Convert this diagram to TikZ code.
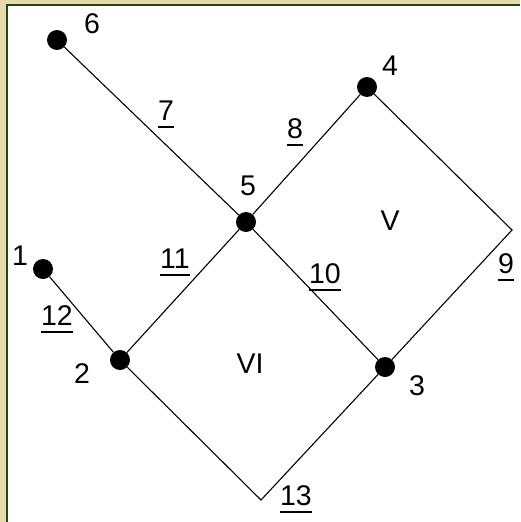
\documentclass[tikz,border=0pt]{standalone}
\usepackage{fontspec}
\setmainfont{Liberation Sans}
\usetikzlibrary{calc}
\definecolor{parchment}{RGB}{232,216,172}
\definecolor{framegreen}{RGB}{28,72,20}
\newcommand{\ulnum}[1]{\setbox0\hbox{#1}\rlap{\rule[-8pt]{\wd0}{1.6pt}}\box0}
\tikzset{
 road/.style={line width=1.1pt},
 vertex/.style={circle,fill=black,minimum size=20pt,inner sep=0},
 vnum/.style={anchor=base,inner sep=0,font=\fontsize{28.5}{32}\selectfont},
 enum/.style={vnum},
 face/.style={vnum}
}

\begin{document}
\begin{tikzpicture}[x=1pt,y=-1pt]
\path[use as bounding box] (0,0) rectangle (520,522);
\fill[parchment] (0,0) rectangle (520,522);
\fill[white] (7,5) rectangle (520,522);
\draw[framegreen,line width=2pt] (7,522) -- (7,5) -- (520,5);
\node[vertex] (v1) at (43,269) {};
\node[vertex] (v2) at (120,360) {};
\node[vertex] (v3) at (385,367) {};
\node[vertex] (v4) at (367,87) {};
\node[vertex] (v5) at (246,222) {};
\node[vertex] (v6) at (57,40) {};
\coordinate (c9) at (512,230);
\coordinate (c13) at (261,500);
\draw[road] (v6) -- (v5);
\draw[road] (v5) -- (v4);
\draw[road] (v4) -- (c9) -- (v3);
\draw[road] (v3) -- (c13) -- (v2);
\draw[road] (v2) -- (v5);
\draw[road] (v5) -- (v3);
\draw[road] (v1) -- (v2);
% vertex numbers
\node[vnum] (t1) at (20,265) {1};
\node[vnum] (t2) at (82,383) {2};
\node[vnum] (t3) at (417,395) {3};
\node[vnum] (t4) at (390,75) {4};
\node[vnum] (t5) at (248,195) {5};
\node[vnum] (t6) at (92,33) {6};
% edge numbers
\node[enum] (e7) at (166,120) {\ulnum{7}};
\node[enum] (e8) at (295,138) {\ulnum{8}};
\node[enum] (e9) at (506,273) {\ulnum{9}};
\node[enum] (e10) at (325,283) {\ulnum{10}};
\node[enum] (e11) at (175,268) {\ulnum{11}};
\node[enum] (e12) at (57,325) {\ulnum{12}};
\node[enum] (e13) at (296,505) {\ulnum{13}};
% faces
\node[face] (fV) at (390,230) {V};
\node[face] (fVI) at (250,373) {VI};
\end{tikzpicture}
\end{document}
